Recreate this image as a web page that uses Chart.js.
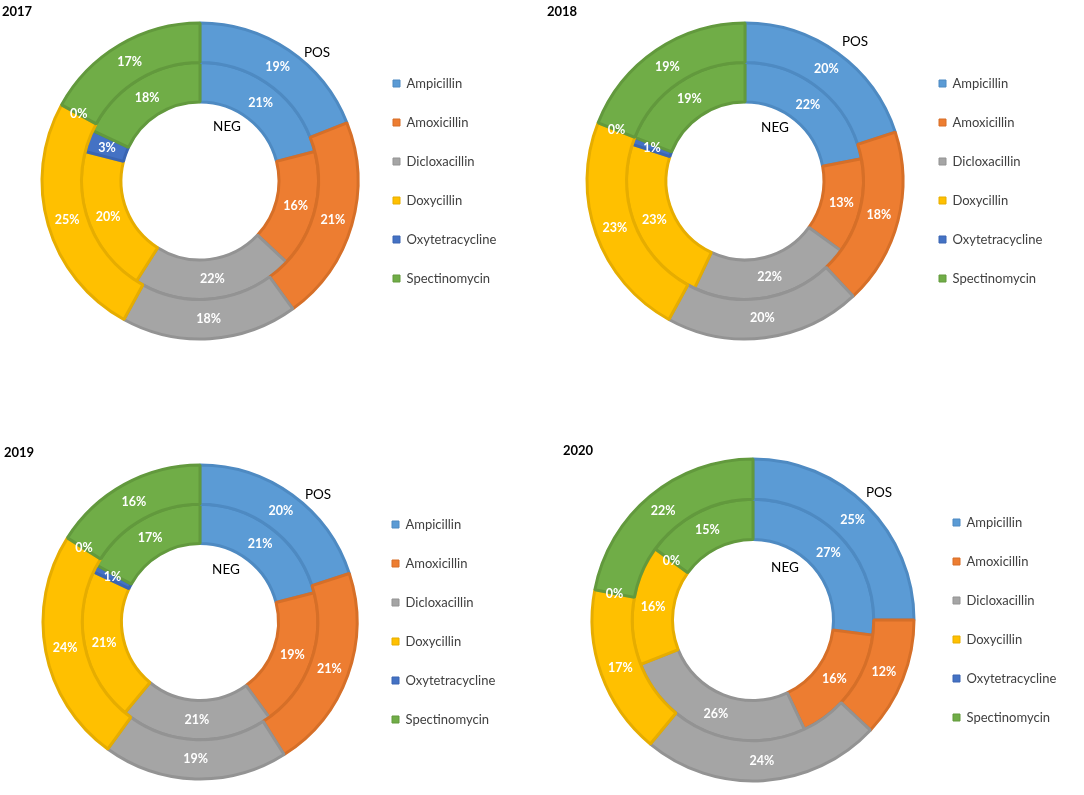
<!DOCTYPE html>
<html>
<head>
<meta charset="utf-8">
<title>POS / NEG doughnuts 2017-2020</title>
<script src="https://cdn.jsdelivr.net/npm/chart.js@4.4.1/dist/chart.umd.min.js"></script>
<style>
  body { margin: 0; background: #fff; }
  #wrap { position: relative; width: 1084px; height: 795px; overflow: hidden; }
  #wrap canvas { position: absolute; }
</style>
</head>
<body>
<div id="wrap">
  <canvas id="c2017" width="531" height="400"></canvas>
  <canvas id="c2018" width="531" height="400"></canvas>
  <canvas id="c2019" width="531" height="400"></canvas>
  <canvas id="c2020" width="531" height="400"></canvas>
</div>
<script>
  // data (percent)
  const categories = ['Ampicillin', 'Amoxicillin', 'Dicloxacillin', 'Doxycillin', 'Oxytetracycline', 'Spectinomycin'];
  const years = ['2017', '2018', '2019', '2020'];
  const seriesNames = ['POS', 'NEG'];

  const pos2017 = [19, 21, 18, 25, 0, 17];
  const neg2017 = [21, 16, 22, 20, 3, 18];
  const pos2018 = [20, 18, 20, 23, 0, 19];
  const neg2018 = [22, 13, 22, 23, 1, 19];
  const pos2019 = [20, 21, 19, 24, 0, 16];
  const neg2019 = [21, 19, 21, 21, 1, 17];
  const pos2020 = [25, 12, 24, 17, 0, 22];
  const neg2020 = [27, 16, 26, 16, 0, 15];

  const posByYear = [pos2017, pos2018, pos2019, pos2020];
  const negByYear = [neg2017, neg2018, neg2019, neg2020];

  const fillColors = ['#5B9BD5', '#ED7D31', '#A5A5A5', '#FFC000', '#4472C4', '#70AD47'];
  const edgeColors = ['#4E8AC2', '#D66F28', '#939393', '#E6AD00', '#3A65B2', '#62993D'];

  // panel layout (canvas origin, legend box x, title x, series name offsets from centre)
  const panels = [
    { left: 0,   top: 0,   radius: 158, boxX: 393, titleX: 2,  pos: [117, -128], neg: [27, -54] },
    { left: 545, top: 0,   radius: 158, boxX: 394, titleX: 2,  pos: [110, -139], neg: [30, -53] },
    { left: 0,   top: 441, radius: 157, boxX: 392, titleX: 4,  pos: [118, -127], neg: [26, -52] },
    { left: 553, top: 439, radius: 161, boxX: 400, titleX: 10, pos: [126, -127], neg: [32, -52] }
  ];

  const CENTER_X = 200;
  const LEGEND_PAD = 26;
  const LEGEND_W = 130;
  const FONT = 'Lato, "Open Sans", sans-serif';

  const ringLabels = {
    id: 'ringLabels',
    afterDatasetsDraw(chart, args, opts) {
      const ctx = chart.ctx;
      ctx.save();
      ctx.textAlign = 'center';
      ctx.textBaseline = 'middle';

      // percentage labels at the middle of each arc
      ctx.font = 'bold 12.5px ' + FONT;
      ctx.fillStyle = '#ffffff';
      chart.data.datasets.forEach((ds, i) => {
        chart.getDatasetMeta(i).data.forEach((arc, j) => {
          const p = arc.getCenterPoint();
          ctx.fillText(ds.data[j] + '%', p.x, p.y);
        });
      });

      // series names
      const first = chart.getDatasetMeta(0).data[0];
      ctx.font = '13.5px ' + FONT;
      ctx.fillStyle = '#000000';
      ctx.fillText(seriesNames[0], first.x + opts.pos[0], first.y + opts.pos[1]);
      ctx.fillText(seriesNames[1], first.x + opts.neg[0], first.y + opts.neg[1]);

      // year heading
      ctx.textAlign = 'left';
      ctx.font = 'bold 13px ' + FONT;
      ctx.fillText(opts.year, opts.titleX, 12);
      ctx.restore();
    }
  };

  function buildChart(k) {
    const panel = panels[k];
    const canvas = document.getElementById('c' + years[k]);
    canvas.style.left = panel.left + 'px';
    canvas.style.top = panel.top + 'px';

    const legendLeft = panel.boxX - LEGEND_PAD;
    const padLeft = 2 * CENTER_X - legendLeft;
    const padRight = canvas.width - LEGEND_W - legendLeft;

    return new Chart(canvas.getContext('2d'), {
      type: 'doughnut',
      data: {
        labels: categories,
        datasets: [
          { label: seriesNames[0], data: posByYear[k], backgroundColor: fillColors, borderColor: edgeColors },
          { label: seriesNames[1], data: negByYear[k], backgroundColor: fillColors, borderColor: edgeColors }
        ]
      },
      options: {
        responsive: false,
        animation: false,
        events: [],
        radius: panel.radius,
        cutout: '50%',
        borderWidth: 3,
        borderAlign: 'center',
        layout: { padding: { left: padLeft, right: padRight, top: 0, bottom: 38 } },
        plugins: {
          tooltip: { enabled: false },
          legend: {
            position: 'right',
            align: 'center',
            maxWidth: LEGEND_W,
            labels: {
              boxWidth: 7,
              boxHeight: 7,
              padding: LEGEND_PAD,
              color: '#404040',
              font: { family: FONT, size: 13 },
              generateLabels(chart) {
                const items = Chart.overrides.doughnut.plugins.legend.labels.generateLabels(chart);
                items.forEach(it => { it.lineWidth = 1; });
                return items;
              }
            }
          },
          ringLabels: { year: years[k], titleX: panel.titleX, pos: panel.pos, neg: panel.neg }
        }
      },
      plugins: [ringLabels]
    });
  }

  window.addEventListener('DOMContentLoaded', () => {
    years.forEach((y, k) => buildChart(k));
  });
</script>
</body>
</html>
